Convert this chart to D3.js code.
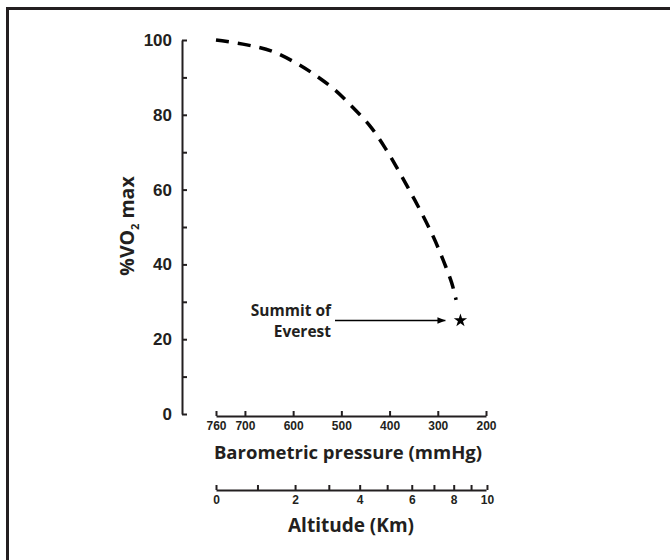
<!DOCTYPE html>
<html><head><meta charset="utf-8">
<script src="https://cdn.jsdelivr.net/npm/d3@7"></script>
<style>
body{margin:0;background:#fff;}
svg{display:block;font-family:"Open Sans","Noto Sans",sans-serif;}
.axis text{font-weight:700;fill:#231f20;}
</style></head><body>
<svg id="chart" width="670" height="560"></svg>
<script>
// Data
const pressure = [760, 696, 644, 596, 554, 513, 475, 440, 409, 382, 357, 333, 309, 289, 271, 262];
const vo2pct   = [100, 98.7, 97, 94, 90.6, 86.6, 81.8, 76.9, 71.1, 65.2, 59.4, 53.6, 47.3, 41.2, 35, 30.5];
const pressureTicks = [760, 700, 600, 500, 400, 300, 200];
const altitudeKm = [0, 1, 2, 3, 4, 5, 6, 7, 8, 9, 10];
const altitudePressure = [760, 674, 596, 526, 462, 405, 354, 308, 267, 231, 198];
const altitudeLabels = [0, 2, 4, 6, 8, 10];
const yTicks = [0, 10, 20, 30, 40, 50, 60, 70, 80, 90, 100];
const yLabels = [0, 20, 40, 60, 80, 100];
const summit = {pressure: 253, vo2: 25, label: ["Summit of", "Everest"]};

const svg = d3.select("#chart");
const ink = "#231f20";

// frame
svg.append("rect").attr("x", 7.5).attr("y", 8.5).attr("width", 700).attr("height", 600)
  .attr("fill", "none").attr("stroke", "#231f20").attr("stroke-width", 3);

const x = d3.scaleLinear().domain([760, 200]).range([216, 486]);
const y = d3.scaleLinear().domain([0, 100]).range([414, 40]);

// Y axis
const yAxis = svg.append("g").attr("class", "axis").attr("transform", "translate(182,0)")
  .call(d3.axisLeft(y).tickValues(yTicks).tickSizeInner(-5).tickSizeOuter(0).tickPadding(10)
    .tickFormat(d => yLabels.includes(d) ? d : ""));
yAxis.selectAll("text").attr("font-size", 17);
yAxis.selectAll("path,line").attr("stroke", ink).attr("stroke-width", 2);

// Pressure axis
const pAxis = svg.append("g").attr("class", "axis").attr("transform", "translate(0,416)")
  .call(d3.axisBottom(x).tickValues(pressureTicks).tickSizeInner(-5).tickSizeOuter(0).tickPadding(5));
pAxis.selectAll("text").attr("font-size", 12);
pAxis.selectAll("path,line").attr("stroke", ink).attr("stroke-width", 2);

// Altitude axis
const aAxis = svg.append("g").attr("class", "axis").attr("transform", "translate(0,490)")
  .call(d3.axisBottom(x).tickValues(altitudePressure).tickSizeInner(-5).tickSizeOuter(0).tickPadding(5)
    .tickFormat((d, i) => altitudeLabels.includes(altitudeKm[i]) ? altitudeKm[i] : ""));
aAxis.selectAll("text").attr("font-size", 12);
aAxis.selectAll("path,line").attr("stroke", ink).attr("stroke-width", 2);

// Axis titles
svg.append("text").attr("x", 348).attr("y", 459).attr("text-anchor", "middle")
  .attr("font-size", 18.5).attr("font-weight", 700).attr("fill", ink).text("Barometric pressure (mmHg)");
svg.append("text").attr("x", 351).attr("y", 532).attr("text-anchor", "middle")
  .attr("font-size", 19).attr("font-weight", 700).attr("fill", ink).text("Altitude (Km)");

const yt = svg.append("text").attr("transform", "translate(134,226) rotate(-90)")
  .attr("text-anchor", "middle").attr("font-size", 19.5).attr("font-weight", 700).attr("fill", ink);
yt.append("tspan").text("%VO");
yt.append("tspan").attr("font-size", 11).attr("dy", 5).text("2");
yt.append("tspan").attr("dy", -5).text(" max");

// Curve
const pts = pressure.map((p, i) => [p, vo2pct[i]]);
svg.append("path").datum(pts)
  .attr("d", d3.line().x(d => x(d[0])).y(d => y(d[1])).curve(d3.curveCatmullRom))
  .attr("fill", "none").attr("stroke", "#000").attr("stroke-width", 3.5)
  .attr("stroke-dasharray", "13,9");

// Summit star
svg.append("path").attr("d", d3.symbol(d3.symbolStar).size(55)())
  .attr("transform", `translate(${x(summit.pressure)},${y(summit.vo2)})`).attr("fill", "#000");

// Arrow
svg.append("defs").append("marker").attr("id", "ah").attr("viewBox", "0 0 10 10")
  .attr("refX", 10).attr("refY", 5).attr("markerWidth", 8).attr("markerHeight", 8)
  .attr("markerUnits", "userSpaceOnUse").attr("orient", "auto")
  .append("path").attr("d", "M0,1 L10,5 L0,9 Z").attr("fill", "#000");
svg.append("line").attr("x1", 335).attr("x2", x(summit.pressure) - 15)
  .attr("y1", y(summit.vo2)).attr("y2", y(summit.vo2))
  .attr("stroke", "#000").attr("stroke-width", 1.5).attr("marker-end", "url(#ah)");

svg.append("text").attr("x", 331).attr("y", 316).attr("text-anchor", "end")
  .attr("font-size", 15.5).attr("font-weight", 700).attr("fill", ink).text(summit.label[0]);
svg.append("text").attr("x", 331).attr("y", 337).attr("text-anchor", "end")
  .attr("font-size", 15.5).attr("font-weight", 700).attr("fill", ink).text(summit.label[1]);
</script>
</body></html>
